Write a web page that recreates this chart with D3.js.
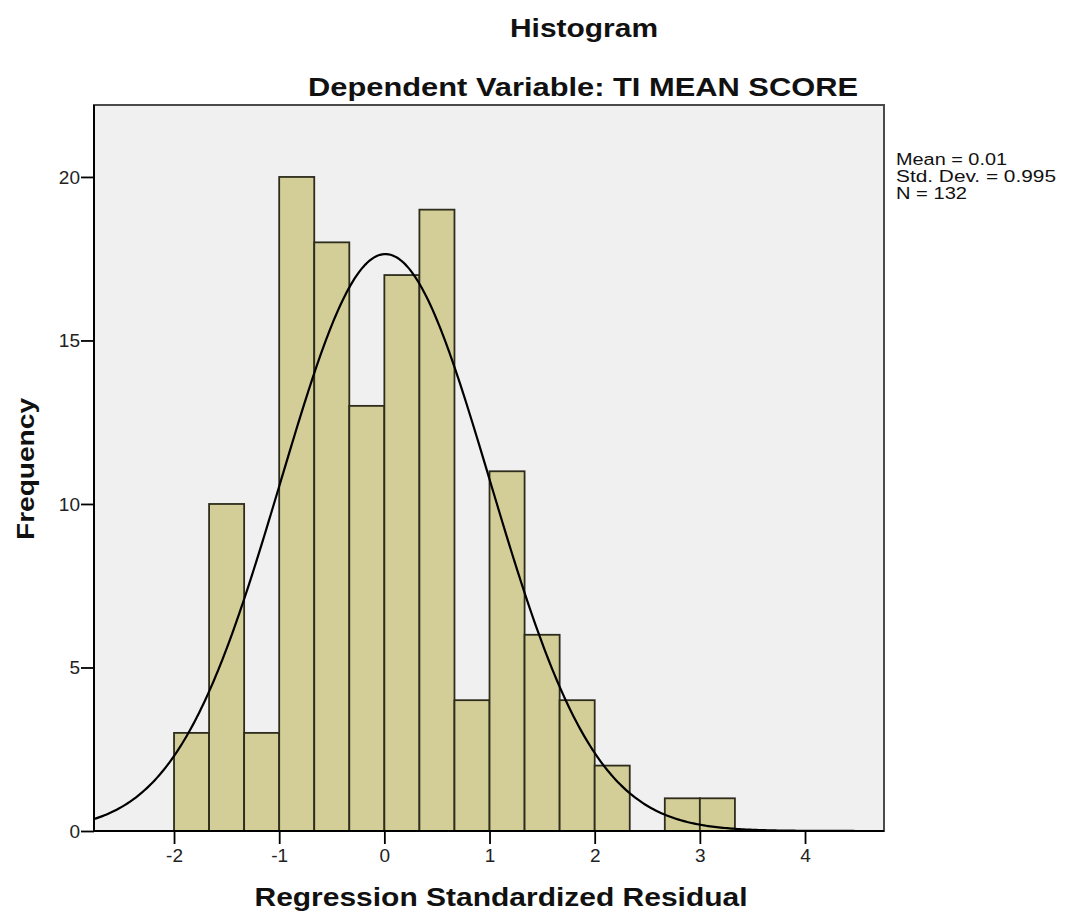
<!DOCTYPE html>
<html>
<head>
<meta charset="utf-8">
<script src="https://cdn.jsdelivr.net/npm/d3@7"></script>
<style>
  body { margin: 0; background: #fff; }
  text { font-family: "Liberation Sans", Arial, sans-serif; }
</style>
</head>
<body>
<svg id="histogram"></svg>
<script>
// bin counts, bins of width 1/3 starting at -2
const binStart = -2;
const binWidth = 1 / 3;
const counts = [3, 10, 3, 20, 18, 13, 17, 19, 4, 11, 6, 4, 2, 0, 1, 1];
const xTicks = [-2, -1, 0, 1, 2, 3, 4];
const yTicks = [0, 5, 10, 15, 20];
const statMean = 0.01;
const statSd = 0.995;
const statN = 132;
const statLines = ["Mean = 0.01", "Std. Dev. = 0.995", "N = 132"];
const statWidths = [111, 160, 71];

const W = 1069, H = 924;
const plot = { left: 94, right: 884, top: 105, bottom: 831 };

const svg = d3.select("#histogram").attr("width", W).attr("height", H);

const x = d3.scaleLinear().domain([-2.761, 4.751]).range([plot.left, plot.right]);
const y = d3.scaleLinear().domain([0, 22.2]).range([plot.bottom, plot.top]);

// plot background
svg.append("rect")
  .attr("x", plot.left).attr("y", plot.top)
  .attr("width", plot.right - plot.left)
  .attr("height", plot.bottom - plot.top)
  .attr("fill", "#f0f0f0")
  .attr("stroke", "#4a4a4a")
  .attr("stroke-width", 2);

// bars
svg.selectAll(".bar")
  .data(counts.map((c, i) => ({ x0: binStart + i * binWidth, x1: binStart + (i + 1) * binWidth, c })))
  .join("rect")
  .attr("class", "bar")
  .filter((d) => d.c > 0)
  .attr("x", (d) => x(d.x0))
  .attr("width", (d) => x(d.x1) - x(d.x0))
  .attr("y", (d) => y(d.c))
  .attr("height", (d) => y(0) - y(d.c))
  .attr("fill", "#d3ce97")
  .attr("stroke", "#2e2c1c")
  .attr("stroke-width", 1.8);

// normal curve from the stats
const pdf = (v) =>
  Math.exp(-0.5 * Math.pow((v - statMean) / statSd, 2)) / (statSd * Math.sqrt(2 * Math.PI));
const curvePts = d3.range(x.domain()[0], x.domain()[1], 0.02).concat([x.domain()[1]]);
svg.append("path")
  .datum(curvePts)
  .attr("fill", "none")
  .attr("stroke", "#000")
  .attr("stroke-width", 2.2)
  .attr("d", d3.line().x((d) => x(d)).y((d) => y(statN * binWidth * pdf(d))));

// axes
const xAxis = svg.append("g")
  .attr("transform", `translate(0,${plot.bottom})`)
  .call(d3.axisBottom(x).tickValues(xTicks).tickSize(13).tickPadding(5).tickSizeOuter(0));
const yAxis = svg.append("g")
  .attr("transform", `translate(${plot.left},0)`)
  .call(d3.axisLeft(y).tickValues(yTicks).tickSize(13).tickPadding(1).tickSizeOuter(0));

[xAxis, yAxis].forEach((g) => {
  g.select(".domain").remove();
  g.selectAll(".tick line").attr("stroke", "#000").attr("stroke-width", 1.8);
  g.selectAll(".tick text")
    .attr("fill", "#222")
    .style("font-size", "19px")
    .style("font-family", '"Liberation Sans", Arial, sans-serif');
});
xAxis.selectAll(".tick text").text((d) => (d < 0 ? "-" + Math.abs(d) : d));

// axis lines
svg.append("line")
  .attr("x1", plot.left).attr("x2", plot.right)
  .attr("y1", plot.bottom).attr("y2", plot.bottom)
  .attr("stroke", "#000").attr("stroke-width", 2);
svg.append("line")
  .attr("x1", plot.left).attr("x2", plot.left)
  .attr("y1", plot.top).attr("y2", plot.bottom)
  .attr("stroke", "#000").attr("stroke-width", 2);

// titles
function title(txt, px, py, size, len, rot) {
  const t = svg.append("text")
    .attr("text-anchor", "middle")
    .attr("textLength", len)
    .attr("lengthAdjust", "spacingAndGlyphs")
    .style("font-size", size + "px")
    .style("font-weight", "bold")
    .attr("fill", "#111")
    .text(txt);
  if (rot) t.attr("transform", `translate(${px},${py}) rotate(-90)`);
  else t.attr("x", px).attr("y", py);
}
title("Histogram", 584, 37, 26, 148);
title("Dependent Variable: TI MEAN SCORE", 583, 96, 26, 550);
title("Regression Standardized Residual", 501, 906, 25, 493);
title("Frequency", 34, 469, 24, 142, true);

// stats box
svg.append("g")
  .selectAll("text")
  .data(statLines)
  .join("text")
  .attr("x", 896)
  .attr("y", (d, i) => 165 + i * 17)
  .attr("textLength", (d, i) => statWidths[i])
  .attr("lengthAdjust", "spacingAndGlyphs")
  .style("font-size", "16px")
  .attr("fill", "#111")
  .text((d) => d);
</script>
</body>
</html>
